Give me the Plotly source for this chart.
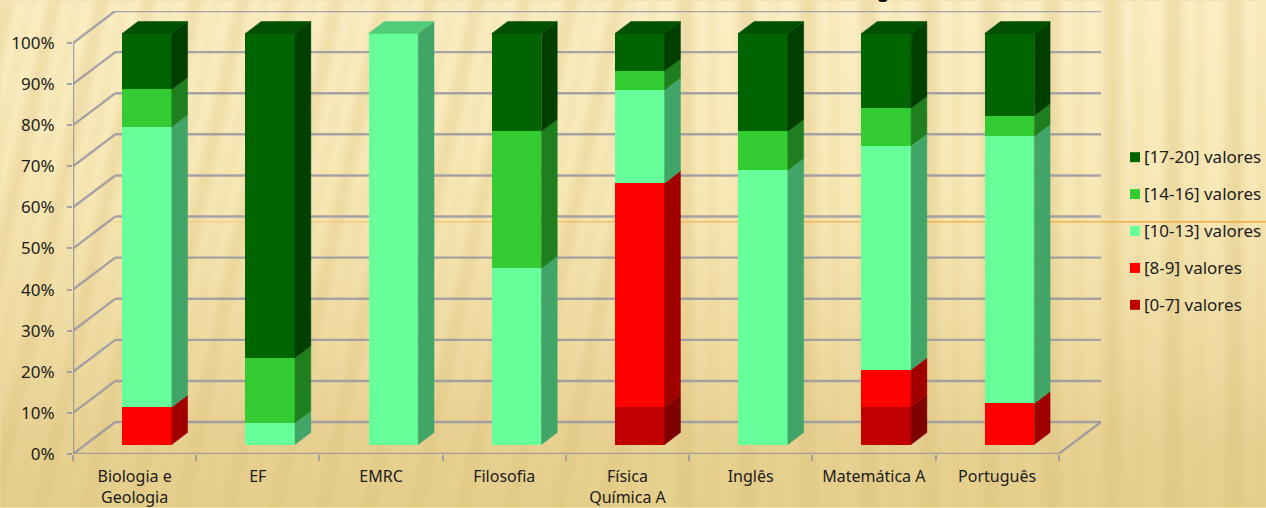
import base64
import plotly.graph_objects as go

# ---------- data (percent of students per grade band) ----------
categories = ["Biologia e<br>Geologia", "EF", "EMRC", "Filosofia", "Física<br>Química A", "Inglês", "Matemática A", "Português"]
band_0_7 = [0, 0, 0, 0, 9.1, 0, 9.1, 0]
band_8_9 = [9.1, 0, 0, 0, 54.5, 0, 9.1, 10]
band_10_13 = [68.2, 5.3, 100, 42.9, 22.7, 66.7, 54.5, 65]
band_14_16 = [9.1, 15.8, 0, 33.3, 4.6, 9.5, 9.1, 5]
band_17_20 = [13.6, 78.9, 0, 23.8, 9.1, 23.8, 18.2, 20]
y_ticks = [0, 10, 20, 30, 40, 50, 60, 70, 80, 90, 100]
y_labels = ["0%", "10%", "20%", "30%", "40%", "50%", "60%", "70%", "80%", "90%", "100%"]
series_names = ["[0-7] valores", "[8-9] valores", "[10-13] valores", "[14-16] valores", "[17-20] valores"]
series_values = [band_0_7, band_8_9, band_10_13, band_14_16, band_17_20]
front_colors = ["#C00000", "#FF0000", "#66FF99", "#33CC33", "#006400"]
side_colors = ["#7F0000", "#A00000", "#40A566", "#1F7F1F", "#003F00"]
top_colors = ["#A00000", "#D00000", "#52CC7A", "#29A329", "#005000"]

# ---------- layout geometry ----------
W, H = 1266, 508
L, R, T, B = 72.7, 1101.0, 10.5, 454.5
CAT = 123.25          # pixels per category
VAL = 4.12            # pixels per percent
WALL_DX, WALL_DY = 42.3 / CAT, 32.0 / VAL
BAR_DX, BAR_DY = 12.4 / CAT, 9.5 / VAL
SIDE_DX, SIDE_DY = 15.8 / CAT, 12.0 / VAL
BAR_W = 49.6 / CAT
GRID = "rgba(146,146,160,0.8)"
TEXT = "#1c1c1c"
FONT = "Noto Sans"


def px(x):
    return (x - L) / (R - L)


def py(y):
    return (B - y) / (B - T)


bg_svg = f'''<svg xmlns="http://www.w3.org/2000/svg" width="{W}" height="{H}" viewBox="0 0 {W} {H}">
<defs>
<linearGradient id="g" x1="0" y1="0" x2="0" y2="1">
<stop offset="0" stop-color="#FCEFC6"/><stop offset="0.4" stop-color="#F8E8B6"/>
<stop offset="0.72" stop-color="#EEDAA0"/><stop offset="0.86" stop-color="#E8D294"/><stop offset="1" stop-color="#E6D08C"/></linearGradient>
<linearGradient id="o" x1="0" y1="0" x2="1" y2="0">
<stop offset="0" stop-color="#F2A83C" stop-opacity="0.25"/><stop offset="0.5" stop-color="#F2A83C" stop-opacity="0.8"/>
<stop offset="1" stop-color="#EE9E2C"/></linearGradient>
<filter id="b" x="-5%" y="-5%" width="110%" height="110%"><feGaussianBlur stdDeviation="4 1"/></filter>
<pattern id="p1" width="47" height="{H}" patternUnits="userSpaceOnUse" patternTransform="skewX(-12)">
<rect x="0" width="15" height="{H}" fill="#D8BC72" opacity="0.3"/><rect x="26" width="8" height="{H}" fill="#D8BC72" opacity="0.2"/></pattern>
<pattern id="p2" width="61" height="{H}" patternUnits="userSpaceOnUse">
<rect x="6" width="17" height="{H}" fill="#D8BC72" opacity="0.34"/><rect x="38" width="7" height="{H}" fill="#D8BC72" opacity="0.22"/></pattern>
</defs>
<rect width="{W}" height="{H}" fill="url(#g)"/>
<g filter="url(#b)"><rect x="-10" y="-10" width="640" height="{H+20}" fill="url(#p1)"/>
<rect x="630" y="-10" width="{W-620}" height="{H+20}" fill="url(#p2)"/></g>
<rect x="110" y="221.2" width="{W-110}" height="1.2" fill="url(#o)"/>
</svg>'''
bg_uri = "data:image/svg+xml;base64," + base64.b64encode(bg_svg.encode()).decode()

fig = go.Figure()

xs = list(range(len(categories)))

# Side and top faces of the blocks, built from the same cumulative values as the fronts
cum = [0.0] * len(categories)
bases = []
for vals in series_values:
    bases.append(list(cum))
    cum = [c + v for c, v in zip(cum, vals)]

for s, vals in enumerate(series_values):
    for k in xs:
        if vals[k] <= 0:
            continue
        x1 = k + BAR_DX + BAR_W / 2
        y0 = bases[s][k] + BAR_DY
        y1 = y0 + vals[k]
        fig.add_trace(go.Scatter(
            x=[x1, x1 + SIDE_DX, x1 + SIDE_DX, x1, x1],
            y=[y0, y0 + SIDE_DY, y1 + SIDE_DY, y1, y0],
            mode="lines", fill="toself", fillcolor=side_colors[s],
            line=dict(width=0.5, color=side_colors[s]), hoverinfo="skip", showlegend=False))
        if bases[s][k] + vals[k] >= 99.9:
            x0 = x1 - BAR_W
            fig.add_trace(go.Scatter(
                x=[x0, x1, x1 + SIDE_DX, x0 + SIDE_DX, x0],
                y=[y1, y1, y1 + SIDE_DY, y1 + SIDE_DY, y1],
                mode="lines", fill="toself", fillcolor=top_colors[s],
                line=dict(width=0.5, color=top_colors[s]), hoverinfo="skip", showlegend=False))

# Front faces
for s, vals in enumerate(series_values):
    fig.add_trace(go.Bar(
        x=[k + BAR_DX for k in xs], y=vals,
        base=[b + BAR_DY for b in bases[s]],
        width=BAR_W, name=series_names[s],
        marker=dict(color=front_colors[s], line=dict(width=0)),
        showlegend=False))

# Axis lines (front plane)
fig.add_trace(go.Scatter(x=[-0.5, -0.5], y=[0, 100], mode="lines", cliponaxis=False,
                         line=dict(color=GRID, width=2.6), hoverinfo="skip", showlegend=False))
fig.add_trace(go.Scatter(x=[-0.5, len(categories) - 0.5], y=[0, 0], mode="lines", cliponaxis=False,
                         line=dict(color=GRID, width=2.6), hoverinfo="skip", showlegend=False))

shapes = []
# Wall and floor gridlines, under the bars
xb0, xb1 = -0.5 + WALL_DX, len(categories) - 0.5 + WALL_DX
for v in y_ticks:
    shapes.append(dict(type="line", xref="x", yref="y", layer="below",
                       x0=-0.5, y0=v, x1=xb0, y1=v + WALL_DY, line=dict(color=GRID, width=2.4)))
    shapes.append(dict(type="line", xref="x", yref="y", layer="below",
                       x0=xb0, y0=v + WALL_DY, x1=xb1, y1=v + WALL_DY, line=dict(color=GRID, width=2.4)))
shapes.append(dict(type="line", xref="x", yref="y", layer="below",
                   x0=len(categories) - 0.5, y0=0, x1=xb1, y1=WALL_DY, line=dict(color=GRID, width=2.4)))

# Hand-set legend, matching the tight swatch-to-text spacing
annotations = []
legend_rows = [157, 194, 231, 268, 305]
for row, s in zip(legend_rows, reversed(range(len(series_names)))):
    shapes.append(dict(type="rect", xref="paper", yref="paper", layer="above",
                       x0=px(1130), x1=px(1140), y0=py(row - 5), y1=py(row + 5),
                       fillcolor=front_colors[s], line=dict(width=0)))
    annotations.append(dict(text=series_names[s], xref="paper", yref="paper", x=px(1143.5), y=py(row - 0.5),
                            xanchor="left", yanchor="middle", showarrow=False, borderpad=0,
                            font=dict(family=FONT, size=17, color=TEXT)))

# Tail of the clipped title at the top edge
annotations.append(dict(text="<b>g</b>", xref="paper", yref="paper", x=px(883), y=py(3),
                        xanchor="center", yanchor="bottom", showarrow=False, borderpad=0,
                        font=dict(family=FONT, size=20, color="#111111")))

fig.update_layout(
    width=W, height=H, autosize=False,
    margin=dict(l=L, r=W - R, t=T, b=H - B, pad=0, autoexpand=False),
    paper_bgcolor="#F3E2AC", plot_bgcolor="rgba(0,0,0,0)",
    barmode="overlay", bargap=0, showlegend=False,
    font=dict(family=FONT, color=TEXT),
    shapes=shapes, annotations=annotations,
    images=[dict(source=bg_uri, xref="paper", yref="paper", layer="below",
                 x=px(0), y=py(0), sizex=px(W) - px(0), sizey=py(0) - py(H),
                 xanchor="left", yanchor="top", sizing="stretch")],
    xaxis=dict(range=[-0.5, len(categories) - 0.5 + WALL_DX], tickmode="array", tickvals=xs, ticktext=categories,
               automargin=False,
               showgrid=False, zeroline=False, showline=False, ticks="outside", ticklen=0, tickwidth=0,
               ticklabelstandoff=8, tickfont=dict(family=FONT, size=16, color=TEXT), tickangle=0,
               minor=dict(tickmode="array", tickvals=[k - 0.5 for k in range(len(categories) + 1)],
                          ticks="outside", ticklen=6, tickwidth=2, tickcolor=GRID, showgrid=False)),
    yaxis=dict(range=[0, 100 + WALL_DY], tickmode="array", tickvals=y_ticks, ticktext=y_labels,
               automargin=False,
               showgrid=False, zeroline=False, showline=False, ticks="outside", ticklen=5, tickwidth=2,
               tickcolor=GRID, ticklabelstandoff=9, tickfont=dict(family=FONT, size=17, color=TEXT)),
)

fig.write_html("out.html", config=dict(displayModeBar=False),
               post_script="document.body.style.margin='0';document.body.style.overflow='hidden';")
